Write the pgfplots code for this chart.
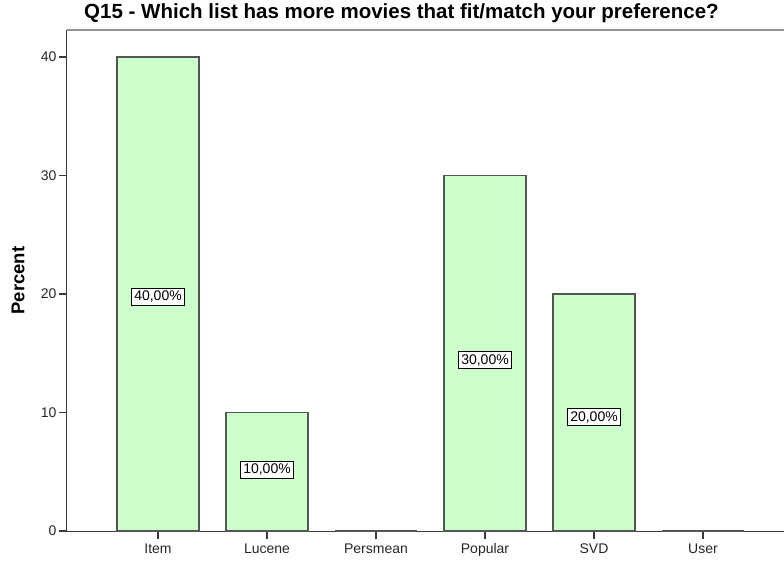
\documentclass[border=0pt]{standalone}
\usepackage{pgfplots}
\pgfplotsset{compat=1.18}
\usepackage{fontspec}
\setmainfont{Liberation Sans}
\definecolor{barfill}{HTML}{CCFFCC}
\definecolor{barline}{HTML}{555555}
\definecolor{axline}{HTML}{3A3A3A}
\begin{document}
\begin{tikzpicture}[x=1pt,y=1pt]
\begin{axis}[
  scale only axis,
  width=717pt, height=501pt,
  xmin=-0.8349, xmax=5.743,
  ymin=0, ymax=42.28,
  separate axis lines,
  axis x line*=bottom,
  axis y line*=left,
  axis line style={axline, line width=1pt},
  xtick={0,1,2,3,4,5},
  xticklabels={Item,Lucene,Persmean,Popular,SVD,User},
  ytick={0,10,20,30,40},
  tick align=outside,
  major tick length=8pt,
  tick style={axline, line width=1.1pt},
  tick label style={font=\fontsize{14}{16}\selectfont, text=black!85},
  /pgf/number format/assume math mode=true,
  xticklabel style={yshift=-1pt},
  yticklabel style={xshift=1pt},
  ylabel={Percent},
  ylabel style={at={(axis description cs:-0.0683,0.5)}, anchor=center, font=\bfseries\fontsize{18.5}{20}\selectfont},
  title={Q15 - Which list has more movies that fit/match your preference?},
  title style={at={(axis description cs:0.4665,1)}, anchor=base, yshift=5pt, font=\bfseries\fontsize{20.5}{22}\selectfont},
  clip=false,
]
\addplot[ybar, bar width=0.75, bar shift=0pt, fill=barfill, draw=barline, line width=1.4pt]
  coordinates {(0,40) (1,10) (2,0) (3,30) (4,20) (5,0)};
\addplot[draw=none, mark=none, nodes near coords, point meta=explicit symbolic,
  every node near coord/.style={anchor=center, draw=black, fill=white, line width=0.9pt, inner sep=2.6pt, font=\fontsize{14}{16}\selectfont}]
  table[meta=label] {
x y label
0 19.75 40,00\%
1 5.15 10,00\%
3 14.43 30,00\%
4 9.62 20,00\%
};
\draw[gray!85, line width=1.5pt] (rel axis cs:0,1) -- (rel axis cs:1,1);
\coordinate (ll) at (rel axis cs:0,0);
\coordinate (ur) at (rel axis cs:1,1);
\end{axis}
\pgfresetboundingbox
\path ([shift={(-67pt,-29pt)}]ll) rectangle ([shift={(0pt,30pt)}]ur);
\end{tikzpicture}
\end{document}
